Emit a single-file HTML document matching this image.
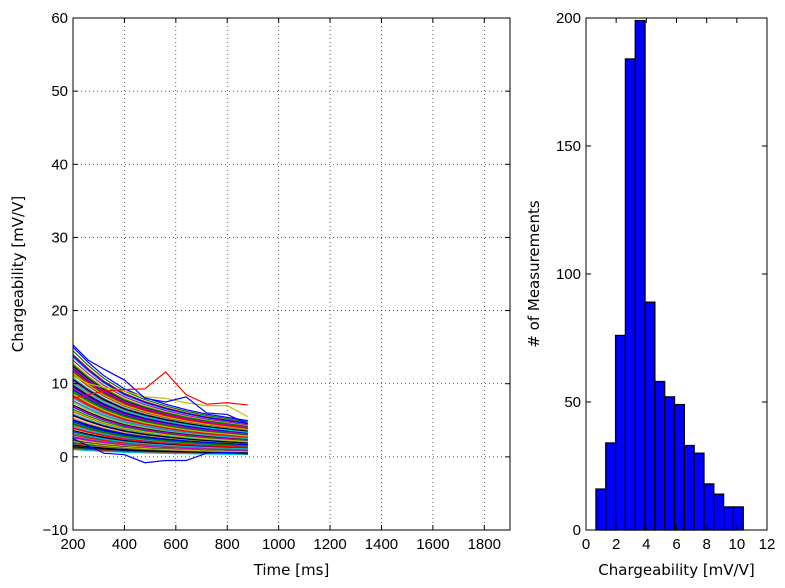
<!DOCTYPE html>
<html><head><meta charset="utf-8"><style>
body{margin:0;background:#fff}
svg{display:block;font-family:"Liberation Sans","DejaVu Sans",sans-serif}
.t{font-family:"DejaVu Sans","Liberation Sans",sans-serif}
</style></head><body>
<svg id="fig" width="785" height="588">
<rect width="785" height="588" fill="#fff"/>
<g id="left"></g>
<g id="right"></g>
</svg>
<script>
// ---- Left chart data ----
const times = [200, 260, 320, 400, 480, 560, 640, 720, 800, 880];
const decayProfile = [1, 0.86, 0.74, 0.62, 0.54, 0.48, 0.43, 0.39, 0.36, 0.33];
const startValues = [15, 14.5, 14, 13.6, 13.2, 12.8, 12.4, 12, 11.6, 11.2, 10.8, 10.4, 10, 9.6, 9.2, 8.8, 8.4, 8, 7.7, 7.4, 7.1, 6.8, 6.5, 6.2, 5.9, 5.6, 5.3, 5, 4.8, 4.6, 4.4, 4.2, 4, 3.8, 3.6, 3.4, 3.2, 3, 2.8, 2.6, 2.4, 2.2, 2, 1.9, 1.8, 1.7, 1.6, 1.5, 1.4, 1.3, 1.2, 1.1, 1, 12.2, 11.4, 10.6, 9.8, 9, 8.2, 7.6, 6.9, 6.3, 5.7, 5.1, 4.5, 3.9, 3.3, 2.7, 2.1, 1.6, 13.8, 12.6, 11.8, 10.2, 9.4, 8.6];
const outlierRed = [8, 8.5, 9, 9.2, 9.3, 11.6, 8.5, 7.2, 7.4, 7.1];
const outlierBlue = [2.5, 1.5, 0.5, 0.3, -0.8, -0.5, -0.5, 0.5, 0.6, 0.4];
const outlierBlue2 = [15.3, 13.2, 12, 10.5, 8, 7.5, 8.2, 6, 5.8, 4.5];
const outlierYellow = [11, 10, 9.5, 9, 8.2, 8, 7.4, 7, 7, 5.5];
const xTicks = [200, 400, 600, 800, 1000, 1200, 1400, 1600, 1800];
const yTicks = [-10, 0, 10, 20, 30, 40, 50, 60];
// ---- Histogram data ----
const binStart = 0.66;
const binWidth = 0.651;
const counts = [16, 34, 76, 184, 199, 89, 58, 52, 49, 33, 30, 18, 14, 9, 9];
const hxTicks = [0, 2, 4, 6, 8, 10, 12];
const hyTicks = [0, 50, 100, 150, 200];

const NS = "http://www.w3.org/2000/svg";
function mk(parent, tag, attrs, text) {
  const e = document.createElementNS(NS, tag);
  for (const k in attrs) e.setAttribute(k, attrs[k]);
  if (text !== undefined) e.textContent = text;
  parent.appendChild(e);
  return e;
}
const colors = ["#0000ff", "#008000", "#ff0000", "#00bfbf", "#bf00bf", "#bfbf00", "#000000"];

// Left axes
const L = {x0: 73, x1: 510, y0: 18, y1: 530};
const lx = v => L.x0 + (v - 200) / 1700 * (L.x1 - L.x0);
const ly = v => L.y1 - (v + 10) / 70 * (L.y1 - L.y0);
const left = document.getElementById("left");
const gl = mk(left, "g", {});


xTicks.forEach(t => { if (t > 200) mk(gl, "line", {x1: lx(t), x2: lx(t), y1: L.y0, y2: L.y1, stroke: "#000", "stroke-width": 0.6, "stroke-dasharray": "1,3"}); });
yTicks.forEach(t => { if (t > -10 && t < 60) mk(gl, "line", {x1: L.x0, x2: L.x1, y1: ly(t), y2: ly(t), stroke: "#000", "stroke-width": 0.6, "stroke-dasharray": "1,3"}); });

const lines = mk(left, "g", {});


function drawSeries(vals, color, name) {
  const p = mk(lines, "polyline", {points: vals.map((v, i) => lx(times[i]) + "," + ly(v)).join(" "), fill: "none", stroke: color, "stroke-width": 1.2});
  
  
}
startValues.forEach((s, j) => {
  drawSeries(decayProfile.map(d => s * d), colors[j % 7], "decay-curve");
});
drawSeries(outlierYellow, "#bfbf00", "outlier-curve-yellow");
drawSeries(outlierBlue2, "#0000ff", "outlier-curve-blue-high");
drawSeries(outlierBlue, "#0000ff", "outlier-curve-blue-low");
drawSeries(outlierRed, "#ff0000", "outlier-curve-red");

mk(left, "rect", {x: L.x0, y: L.y0, width: L.x1 - L.x0, height: L.y1 - L.y0, fill: "none", stroke: "#000", "stroke-width": 1});
xTicks.forEach(t => {
  mk(left, "line", {x1: lx(t), x2: lx(t), y1: L.y1, y2: L.y1 - 5, stroke: "#000"});
  mk(left, "line", {x1: lx(t), x2: lx(t), y1: L.y0, y2: L.y0 + 5, stroke: "#000"});
  const tx = mk(left, "text", {x: lx(t), y: L.y1 + 19, "text-anchor": "middle", "font-size": 15}, String(t));
  
  
});
yTicks.forEach(t => {
  mk(left, "line", {x1: L.x0, x2: L.x0 + 5, y1: ly(t), y2: ly(t), stroke: "#000"});
  mk(left, "line", {x1: L.x1, x2: L.x1 - 5, y1: ly(t), y2: ly(t), stroke: "#000"});
  const tx = mk(left, "text", {x: L.x0 - 5, y: ly(t) + 5, "text-anchor": "end", "font-size": 15}, t < 0 ? "\u2212" + (-t) : String(t));
  
  
});
const xt = mk(left, "text", {x: (L.x0 + L.x1) / 2, y: 575, "text-anchor": "middle", "font-size": 15, class: "t"}, "Time [ms]");


const yt = mk(left, "text", {x: 0, y: 0, transform: "translate(23," + (L.y0 + L.y1) / 2 + ") rotate(-90)", "text-anchor": "middle", "font-size": 15, class: "t"}, "Chargeability [mV/V]");



// Right axes
const R = {x0: 586, x1: 767, y0: 18, y1: 530};
const rx = v => R.x0 + v / 12 * (R.x1 - R.x0);
const ry = v => R.y1 - v / 200 * (R.y1 - R.y0);
const right = document.getElementById("right");
counts.forEach((c, i) => {
  const a = binStart + i * binWidth;
  const b = mk(right, "rect", {x: rx(a), y: ry(c), width: rx(a + binWidth) - rx(a), height: ry(0) - ry(c), fill: "#0000ff", stroke: "#000", "stroke-width": 1.3});
  
  
});
mk(right, "rect", {x: R.x0, y: R.y0, width: R.x1 - R.x0, height: R.y1 - R.y0, fill: "none", stroke: "#000", "stroke-width": 1});
hxTicks.forEach(t => {
  mk(right, "line", {x1: rx(t), x2: rx(t), y1: R.y1, y2: R.y1 - 5, stroke: "#000"});
  mk(right, "line", {x1: rx(t), x2: rx(t), y1: R.y0, y2: R.y0 + 5, stroke: "#000"});
  const tx = mk(right, "text", {x: rx(t), y: R.y1 + 19, "text-anchor": "middle", "font-size": 15}, String(t));
  
  
});
hyTicks.forEach(t => {
  mk(right, "line", {x1: R.x0, x2: R.x0 + 5, y1: ry(t), y2: ry(t), stroke: "#000"});
  mk(right, "line", {x1: R.x1, x2: R.x1 - 5, y1: ry(t), y2: ry(t), stroke: "#000"});
  const tx = mk(right, "text", {x: R.x0 - 5, y: ry(t) + 5, "text-anchor": "end", "font-size": 15}, String(t));
  
  
});
const hxt = mk(right, "text", {x: (R.x0 + R.x1) / 2, y: 575, "text-anchor": "middle", "font-size": 15, class: "t"}, "Chargeability [mV/V]");


const hyt = mk(right, "text", {x: 0, y: 0, transform: "translate(539," + (R.y0 + R.y1) / 2 + ") rotate(-90)", "text-anchor": "middle", "font-size": 15, class: "t"}, "# of Measurements");


</script>
</body></html>
